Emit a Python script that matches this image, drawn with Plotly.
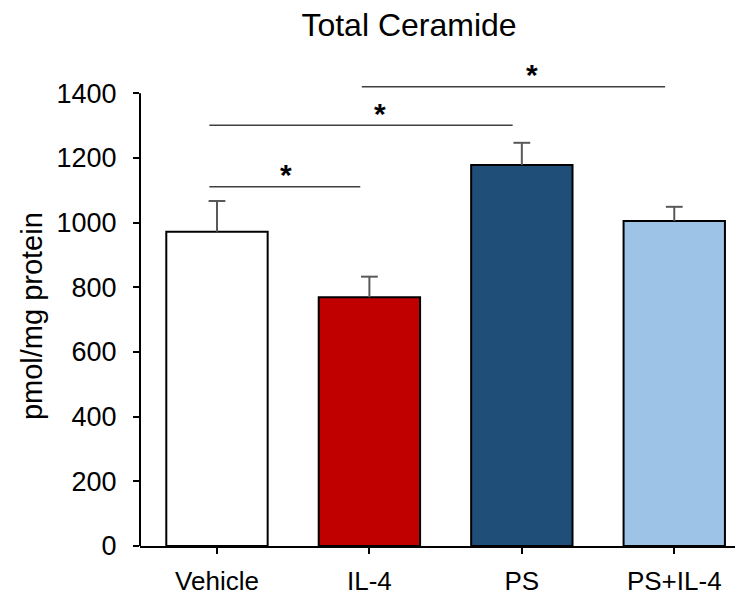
import plotly.graph_objects as go

# ---- data ----
categories = ["Vehicle", "IL-4", "PS", "PS+IL-4"]
means = [972, 769, 1178, 1005]
sem = [95, 64, 69, 44]
bar_colors = ["#FFFFFF", "#C00000", "#1F4E79", "#9DC3E6"]
y_ticks = [0, 200, 400, 600, 800, 1000, 1200, 1400]
y_title = "pmol/mg protein"
chart_title = "Total Ceramide"

# significance comparisons: (from index, to index, bracket height, star x)
sig_pairs = [(0, 1, 1111, 0.45), (0, 2, 1301, 1.07), (1, 3, 1420, 2.065)]
sig_labels = ["*", "*", "*"]

FONT = "Liberation Sans, Arial, sans-serif"

fig = go.Figure()
fig.add_trace(go.Bar(
    x=categories, y=means,
    marker=dict(color=bar_colors, line=dict(color="black", width=2)),
    width=0.665, showlegend=False, hoverinfo="skip",
))

# error bars (upper only)
ex, ey = [], []
for c, m, s in zip(categories, means, sem):
    ex += [c, c, None]
    ey += [m, m + s, None]
fig.add_trace(go.Scatter(x=ex, y=ey, mode="lines",
                         line=dict(color="#595959", width=2),
                         showlegend=False, hoverinfo="skip"))
fig.add_trace(go.Scatter(x=categories, y=[m + s for m, s in zip(means, sem)],
                         mode="markers",
                         marker=dict(symbol="line-ew", size=12,
                                     line=dict(color="#595959", width=2)),
                         showlegend=False, hoverinfo="skip"))

shapes = []
annotations = []
for (a, b, h, sx), lab in zip(sig_pairs, sig_labels):
    shapes.append(dict(type="line", xref="x", yref="y",
                       x0=a - 0.05, x1=b - 0.06, y0=h, y1=h,
                       line=dict(color="#404040", width=1.5)))
    annotations.append(dict(x=sx, y=h, xref="x", yref="y",
                            text="<b>" + lab + "</b>", showarrow=False,
                            yanchor="middle", yshift=12,
                            font=dict(family=FONT, size=30, color="black")))

# y-axis title as rotated annotation
annotations.append(dict(x=0, xref="paper", xshift=-108, xanchor="center",
                        y=711, yref="y", yanchor="middle",
                        text=y_title, textangle=-90, showarrow=False,
                        font=dict(family=FONT, size=29, color="black")))

# y-axis line (stops at top tick)
shapes.append(dict(type="line", xref="paper", yref="y", x0=0, x1=0,
                   y0=0, y1=1400, line=dict(color="black", width=2)))

fig.update_layout(
    width=743, height=596,
    margin=dict(l=132, r=8, t=53, b=58, autoexpand=False),
    paper_bgcolor="white", plot_bgcolor="white",
    font=dict(family=FONT, color="black"),
    title=dict(text=chart_title, x=0.5397, xref="container",
               xanchor="center", y=0.9715, yref="container", yanchor="middle",
               font=dict(family=FONT, size=32, color="black")),
    shapes=shapes, annotations=annotations,
)
fig.update_xaxes(
    range=[-0.505, 3.451], showline=True, linecolor="black", linewidth=2,
    ticks="outside", ticklen=6, tickwidth=2, tickcolor="black",
    tickfont=dict(family=FONT, size=26, color="black"),
    ticklabelstandoff=5,
    showgrid=False, zeroline=False, fixedrange=True,
)
fig.update_yaxes(
    range=[0, 1500], tickvals=y_ticks, ticktext=[str(v) for v in y_ticks],
    showline=False, ticks="outside", ticklen=6, tickwidth=2, tickcolor="black",
    tickfont=dict(family=FONT, size=27, color="black"),
    ticklabelstandoff=11,
    showgrid=False, zeroline=False, fixedrange=True,
)

fig.write_html("out.html")
